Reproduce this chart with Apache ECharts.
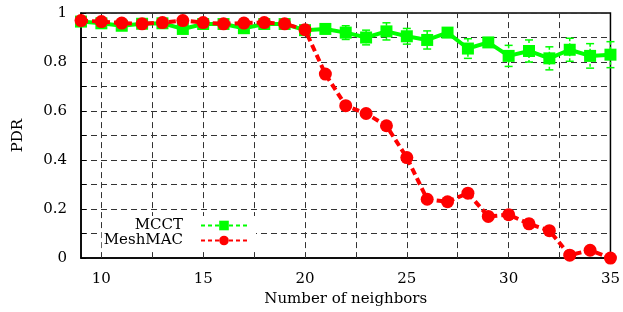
<!DOCTYPE html>
<html>
<head>
<meta charset="utf-8">
<script src="https://cdn.jsdelivr.net/npm/echarts@6/dist/echarts.min.js"></script>
<style>
  html, body { margin: 0; padding: 0; background: #fff; }
  #chart { width: 623px; height: 312px; }
</style>
</head>
<body>
<div id="chart"></div>
<script>
// number of neighbors
var neighbors = [9, 10, 11, 12, 13, 14, 15, 16, 17, 18, 19, 20, 21, 22, 23, 24, 25, 26, 27, 28, 29, 30, 31, 32, 33, 34, 35];
// PDR values
var mcct = [0.965, 0.958, 0.948, 0.956, 0.958, 0.935, 0.955, 0.955, 0.938, 0.955, 0.955, 0.93, 0.935, 0.92, 0.90, 0.925, 0.905, 0.89, 0.92, 0.855, 0.88, 0.825, 0.845, 0.815, 0.85, 0.825, 0.83];
var mcctErr = [0, 0, 0, 0, 0, 0, 0, 0, 0, 0, 0, 0, 0.01, 0.028, 0.03, 0.035, 0.032, 0.037, 0.01, 0.04, 0.015, 0.043, 0.045, 0.047, 0.047, 0.05, 0.053];
var meshmac = [0.969, 0.965, 0.959, 0.956, 0.961, 0.969, 0.961, 0.956, 0.959, 0.961, 0.956, 0.932, 0.751, 0.622, 0.59, 0.54, 0.41, 0.24, 0.23, 0.265, 0.17, 0.177, 0.14, 0.112, 0.012, 0.032, 0.0];
var meshmacErr = [0, 0, 0, 0, 0, 0, 0, 0, 0, 0, 0, 0, 0, 0, 0, 0, 0, 0, 0, 0, 0, 0.005, 0.018, 0.015, 0, 0, 0];
// dashed vertical grid lines
var xGrid = [10, 12.5, 15, 17.5, 20, 22.5, 25, 27.5, 30, 32.5];

var font = 'DejaVu Serif';

function pairs (ys) {
  return neighbors.map(function (x, i) { return [x, ys[i]] })
}
function errTriples (ys, es) {
  return neighbors.map(function (x, i) { return [x, ys[i], es[i]] })
}

function errorBar (color) {
  return function (params, api) {
    var x = api.value(0), y = api.value(1), e = api.value(2);
    if (!e) return null;
    var top = api.coord([x, y + e]);
    var bot = api.coord([x, y - e]);
    var cap = 4;
    var style = { stroke: color, lineWidth: 1.5, lineDash: [3, 2] };
    return {
      type: 'group',
      children: [
        { type: 'line', shape: { x1: top[0], y1: top[1], x2: bot[0], y2: bot[1] }, style: style },
        { type: 'line', shape: { x1: top[0] - cap, y1: top[1], x2: top[0] + cap, y2: top[1] }, style: { stroke: color, lineWidth: 1.5 } },
        { type: 'line', shape: { x1: bot[0] - cap, y1: bot[1], x2: bot[0] + cap, y2: bot[1] }, style: { stroke: color, lineWidth: 1.5 } }
      ]
    }
  }
}

var chart = echarts.init(document.getElementById('chart'));
chart.setOption({
  animation: false,
  textStyle: { fontFamily: font },
  grid: {
    left: 81, right: 9, top: 13, bottom: 50,
    show: true, borderColor: '#000', borderWidth: 1.5, backgroundColor: '#fff'
  },
  legend: [
    {
      data: ['MCCT'],
      right: 367, top: 216,
      z: 20,
      align: 'right',
      itemWidth: 46, itemHeight: 12,
      backgroundColor: '#fff',
      padding: [2, 8, 3, 24],
      textStyle: { fontFamily: font, fontSize: 15, color: '#000', padding: [0, 13, 0, 0] },
      lineStyle: { width: 2, type: [4, 3] }
    },
    {
      data: ['MeshMAC'],
      right: 367, top: 231,
      z: 20,
      align: 'right',
      itemWidth: 46, itemHeight: 12,
      backgroundColor: '#fff',
      padding: [2, 8, 2, 2],
      textStyle: { fontFamily: font, fontSize: 15, color: '#000', padding: [0, 13, 0, 0] },
      lineStyle: { width: 2, type: [4, 3] }
    }
  ],
  xAxis: {
    type: 'value',
    min: 9, max: 35,
    name: 'Number of neighbors',
    nameLocation: 'middle',
    nameGap: 33,
    nameTextStyle: { fontFamily: font, fontSize: 15, color: '#000' },
    axisLine: { lineStyle: { color: '#000', width: 1.5 } },
    axisTick: { inside: true, length: 5, lineStyle: { color: '#000' } },
    axisLabel: { showMinLabel: false, fontFamily: font, fontSize: 15, color: '#000', margin: 14 },
    splitLine: { show: false }
  },
  yAxis: {
    type: 'value',
    min: 0, max: 1, interval: 0.2,
    name: 'PDR',
    nameLocation: 'middle',
    nameGap: 55,
    nameTextStyle: { fontFamily: font, fontSize: 15, color: '#000' },
    axisLine: { lineStyle: { color: '#000', width: 1.5 } },
    axisTick: { inside: true, length: 5, lineStyle: { color: '#000' } },
    minorTick: { show: true, splitNumber: 2, length: 5, lineStyle: { color: '#000' } },
    axisLabel: { fontFamily: font, fontSize: 15, color: '#000', margin: 14 },
    splitLine: { show: true, lineStyle: { color: '#333', type: [6, 4], width: 1 } },
    minorSplitLine: { show: true, lineStyle: { color: '#333', type: [6, 4], width: 1 } }
  },
  series: [
    {
      name: 'gridlines',
      type: 'line',
      data: [],
      silent: true,
      z: 1,
      markLine: {
        silent: true,
        z: 1,
        symbol: 'none',
        label: { show: false },
        lineStyle: { color: '#333', type: [6, 4], width: 1 },
        data: xGrid.map(function (v) { return { xAxis: v } })
      }
    },
    {
      name: 'mcctErr',
      type: 'custom',
      renderItem: errorBar('#00ff00'),
      data: errTriples(mcct, mcctErr),
      z: 3
    },
    {
      name: 'MCCT',
      type: 'line',
      data: pairs(mcct),
      symbol: 'rect',
      symbolSize: 12,
      itemStyle: { color: '#00ff00' },
      lineStyle: { color: '#00ff00', width: 4 },
      z: 4
    },
    {
      name: 'meshErr',
      type: 'custom',
      renderItem: errorBar('#ff0000'),
      data: errTriples(meshmac, meshmacErr),
      z: 5
    },
    {
      name: 'MeshMAC',
      type: 'line',
      data: pairs(meshmac),
      symbol: 'circle',
      symbolSize: 13,
      itemStyle: { color: '#ff0000' },
      lineStyle: { color: '#ff0000', width: 4, type: [7, 4] },
      z: 6
    }
  ]
})
</script>
</body>
</html>
